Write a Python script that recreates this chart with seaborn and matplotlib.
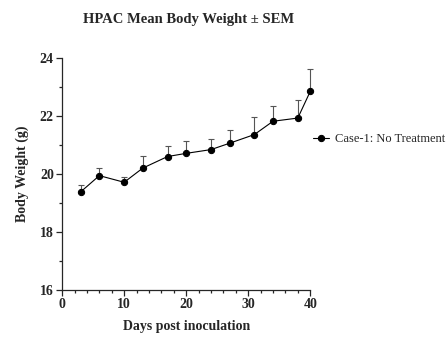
import matplotlib
matplotlib.use('Agg')
import matplotlib.pyplot as plt
from matplotlib.ticker import MultipleLocator
import numpy as np
import pandas as pd
import seaborn as sns

days = [3, 6, 10, 13, 17, 20, 24, 27, 31, 34, 38, 40]
mean_weight = [19.39, 19.95, 19.72, 20.21, 20.61, 20.72, 20.85, 21.07, 21.37, 21.83, 21.94, 22.86]
sem = [0.22, 0.25, 0.17, 0.42, 0.38, 0.44, 0.36, 0.45, 0.60, 0.54, 0.64, 0.78]
series_name = 'Case-1: No Treatment'

df = pd.DataFrame({'day': days, 'weight': mean_weight, 'sem': sem})

sns.set_style('ticks')
plt.rcParams['font.family'] = ['Liberation Serif', 'DejaVu Serif']

fig = plt.figure(figsize=(4.47, 3.61), dpi=100)
ax = fig.add_axes([0.139, 0.197, 0.555, 0.641])

# upper-only error bars, like Prism
eb = ax.errorbar(df['day'], df['weight'], yerr=[np.zeros(len(df)), df['sem']],
                 fmt='none', ecolor='#555555', elinewidth=0.8, capsize=2.5, capthick=0.8)
for art in eb.lines[1] + eb.lines[2]:
    art.set_clip_on(False)
sns.lineplot(data=df, x='day', y='weight', ax=ax, color='black', lw=0.8,
             marker='o', markersize=4.5, markeredgecolor='black', label=series_name,
             clip_on=False)

ax.set_xlim(0, 40)
ax.set_ylim(16, 24)
ax.xaxis.set_major_locator(MultipleLocator(10))
ax.xaxis.set_minor_locator(MultipleLocator(2))
ax.yaxis.set_major_locator(MultipleLocator(2))
ax.yaxis.set_minor_locator(MultipleLocator(1))
ax.tick_params(which='major', length=4, width=0.9, labelsize=10, pad=2)
ax.tick_params(which='minor', length=2.5, width=0.9)
for lab in ax.get_xticklabels() + ax.get_yticklabels():
    lab.set_fontweight('bold')
for side in ['left', 'bottom']:
    ax.spines[side].set_linewidth(0.9)
sns.despine(ax=ax)

ax.set_xlabel('Days post inoculation', fontsize=10, fontweight='bold', labelpad=6)
ax.set_ylabel('Body Weight (g)', fontsize=10, fontweight='bold', labelpad=8)
fig.text(0.421, 0.945, 'HPAC Mean Body Weight \u00b1 SEM', ha='center', va='center',
         fontsize=10.5, fontweight='bold')

ax.legend(loc='center left', bbox_to_anchor=(1.0, 0.652), frameon=False,
          fontsize=9, handlelength=1.3, handletextpad=0.5, borderaxespad=0.2,
          borderpad=0)

fig.savefig('out.png', dpi=100)
